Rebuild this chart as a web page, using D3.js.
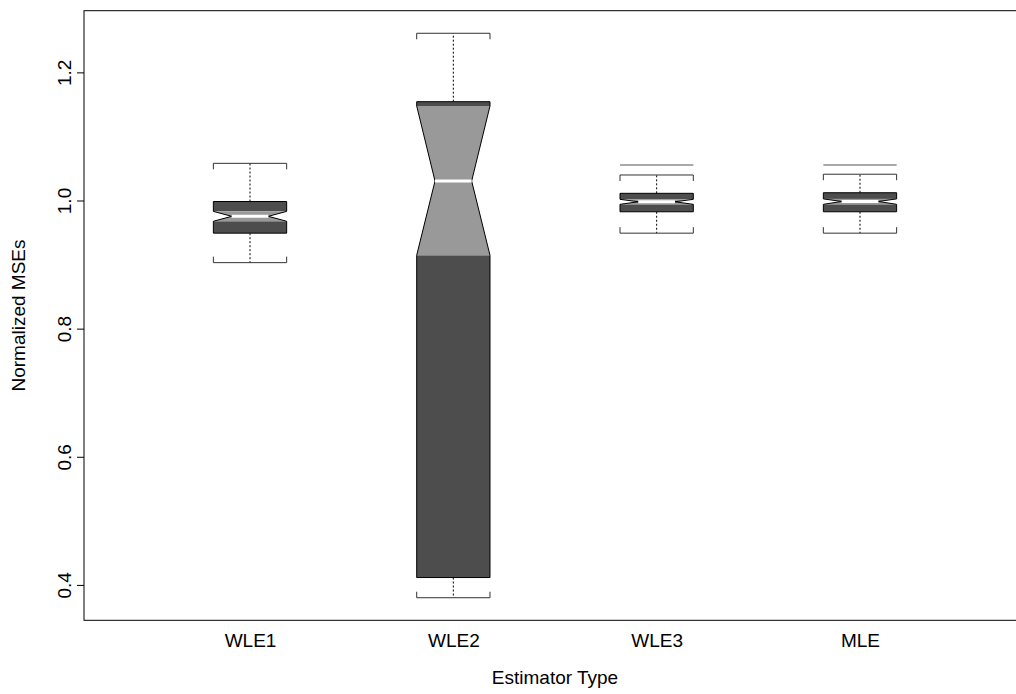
<!DOCTYPE html>
<html><head><meta charset="utf-8">
<script src="https://cdn.jsdelivr.net/npm/d3@7"></script>
<style>body{margin:0;background:#fff}svg{display:block}text{font-family:"Liberation Sans",Arial,Helvetica,sans-serif}</style>
</head><body><svg id="c" width="1016" height="694"></svg>
<script>
// ---- data ----
const categories   = ["WLE1", "WLE2", "WLE3", "MLE"];
const lowerWhisker = [0.903, 0.380, 0.949, 0.949];
const q1           = [0.949, 0.4115, 0.9824, 0.9824];
const notchLow     = [0.9676, 0.9145, 0.9940, 0.9940];
const median       = [0.9753, 1.0304, 0.9980, 0.9985];
const notchHigh    = [0.9830, 1.1475, 1.0018, 1.0025];
const q3           = [0.9984, 1.1542, 1.0112, 1.0121];
const upperWhisker = [1.058, 1.261, 1.0398, 1.0410];
const upperMark    = [null, null, 1.0554, 1.0554];
const yTicks       = [0.4, 0.6, 0.8, 1.0, 1.2];
const yTickLabels  = ["0.4", "0.6", "0.8", "1.0", "1.2"];
const xTitle = "Estimator Type";
const yTitle = "Normalized MSEs";

(function () {
const W = 1016, H = 694;
const pL = 84, pR = 1026, pT = 10.7, pB = 620.3;
const fs = 19;
const svg = d3.select("#c");
svg.append("rect").attr("width", W).attr("height", H).attr("fill", "#fff");

const x = d3.scaleLinear().domain([0.1835, 4.8165]).range([pL, pR]);
const lo = d3.min(lowerWhisker), hi = d3.max(upperWhisker), pad = (hi - lo) * 0.04;
const y = d3.scaleLinear().domain([lo - pad, hi + pad]).range([pB, pT]);
const bw = 73.3;
const dark = "#4d4d4d", light = "#999999";

const rows = categories.map((c, i) => ({
  c, i, lw: lowerWhisker[i], q1: q1[i], nl: notchLow[i], med: median[i],
  nh: notchHigh[i], q3: q3[i], uw: upperWhisker[i], um: upperMark[i]
}));

const g = svg.append("g").selectAll("g").data(rows).join("g");

g.each(function(d) {
  const s = d3.select(this);
  const cx = x(d.i + 1), L = cx - bw / 2, R = cx + bw / 2;
  const iL = cx - bw / 4, iR = cx + bw / 4;
  s.append("line").attr("x1", cx).attr("x2", cx).attr("y1", y(d.q3)).attr("y2", y(d.uw))
    .attr("stroke", "#000").attr("stroke-width", 1).attr("stroke-dasharray", "2,2");
  s.append("line").attr("x1", cx).attr("x2", cx).attr("y1", y(d.q1)).attr("y2", y(d.lw))
    .attr("stroke", "#000").attr("stroke-width", 1).attr("stroke-dasharray", "2,2");
  s.append("path").attr("d", `M${L},${y(d.uw) + 6}V${y(d.uw)}H${R}V${y(d.uw) + 6}`)
    .attr("fill", "none").attr("stroke", "#333").attr("stroke-width", 1);
  s.append("path").attr("d", `M${L},${y(d.lw) - 6}V${y(d.lw)}H${R}V${y(d.lw) - 6}`)
    .attr("fill", "none").attr("stroke", "#333").attr("stroke-width", 1);
  if (d.um != null) {
    s.append("line").attr("x1", L).attr("x2", R).attr("y1", y(d.um)).attr("y2", y(d.um))
      .attr("stroke", "#555").attr("stroke-width", 1.2);
  }
  s.append("rect").attr("x", L).attr("width", bw).attr("y", y(d.nl)).attr("height", y(d.q1) - y(d.nl)).attr("fill", dark);
  s.append("rect").attr("x", L).attr("width", bw).attr("y", y(d.q3)).attr("height", y(d.nh) - y(d.q3)).attr("fill", dark);
  const hg = [[L, y(d.nl)], [iL, y(d.med)], [L, y(d.nh)], [R, y(d.nh)], [iR, y(d.med)], [R, y(d.nl)]];
  s.append("path").attr("d", "M" + hg.join("L") + "Z").attr("fill", light);
  const ol = [[L, y(d.q1)], [L, y(d.nl)], [iL, y(d.med)], [L, y(d.nh)], [L, y(d.q3)],
              [R, y(d.q3)], [R, y(d.nh)], [iR, y(d.med)], [R, y(d.nl)], [R, y(d.q1)]];
  s.append("path").attr("d", "M" + ol.join("L") + "Z").attr("fill", "none")
    .attr("stroke", "#000").attr("stroke-width", 1);
  s.append("line").attr("x1", iL).attr("x2", iR).attr("y1", y(d.med)).attr("y2", y(d.med))
    .attr("stroke", "#fff").attr("stroke-width", 3);
});

svg.append("rect").attr("x", pL).attr("y", pT).attr("width", pR - pL).attr("height", pB - pT)
  .attr("fill", "none").attr("stroke", "#000").attr("stroke-width", 1);

const ya = svg.append("g").attr("transform", `translate(${pL},0)`)
  .call(d3.axisLeft(y).tickValues(yTicks).tickSize(7).tickSizeOuter(0)
    .tickFormat((d, i) => yTickLabels[i]));
ya.select(".domain").remove();
ya.selectAll(".tick line").attr("stroke", "#000");
ya.selectAll(".tick text").attr("x", null).attr("dy", null).attr("fill", "#000")
  .attr("font-size", fs).attr("text-anchor", "middle")
  .attr("transform", `translate(${71 - pL},0) rotate(-90)`);

const xa = svg.append("g").attr("transform", `translate(0,${pB})`)
  .call(d3.axisBottom(x).tickValues(categories.map((c, i) => i + 1)).tickSize(0)
    .tickFormat((d, i) => categories[i]));
xa.select(".domain").remove();
xa.selectAll(".tick text").attr("y", 27).attr("dy", null).attr("fill", "#000").attr("font-size", fs);

svg.append("text").attr("x", (pL + pR) / 2).attr("y", 684).attr("text-anchor", "middle")
  .attr("font-size", fs).text(xTitle);
svg.append("text").attr("transform", `translate(25,${(pT + pB) / 2}) rotate(-90)`)
  .attr("text-anchor", "middle").attr("font-size", fs).text(yTitle);
})();
</script></body></html>
